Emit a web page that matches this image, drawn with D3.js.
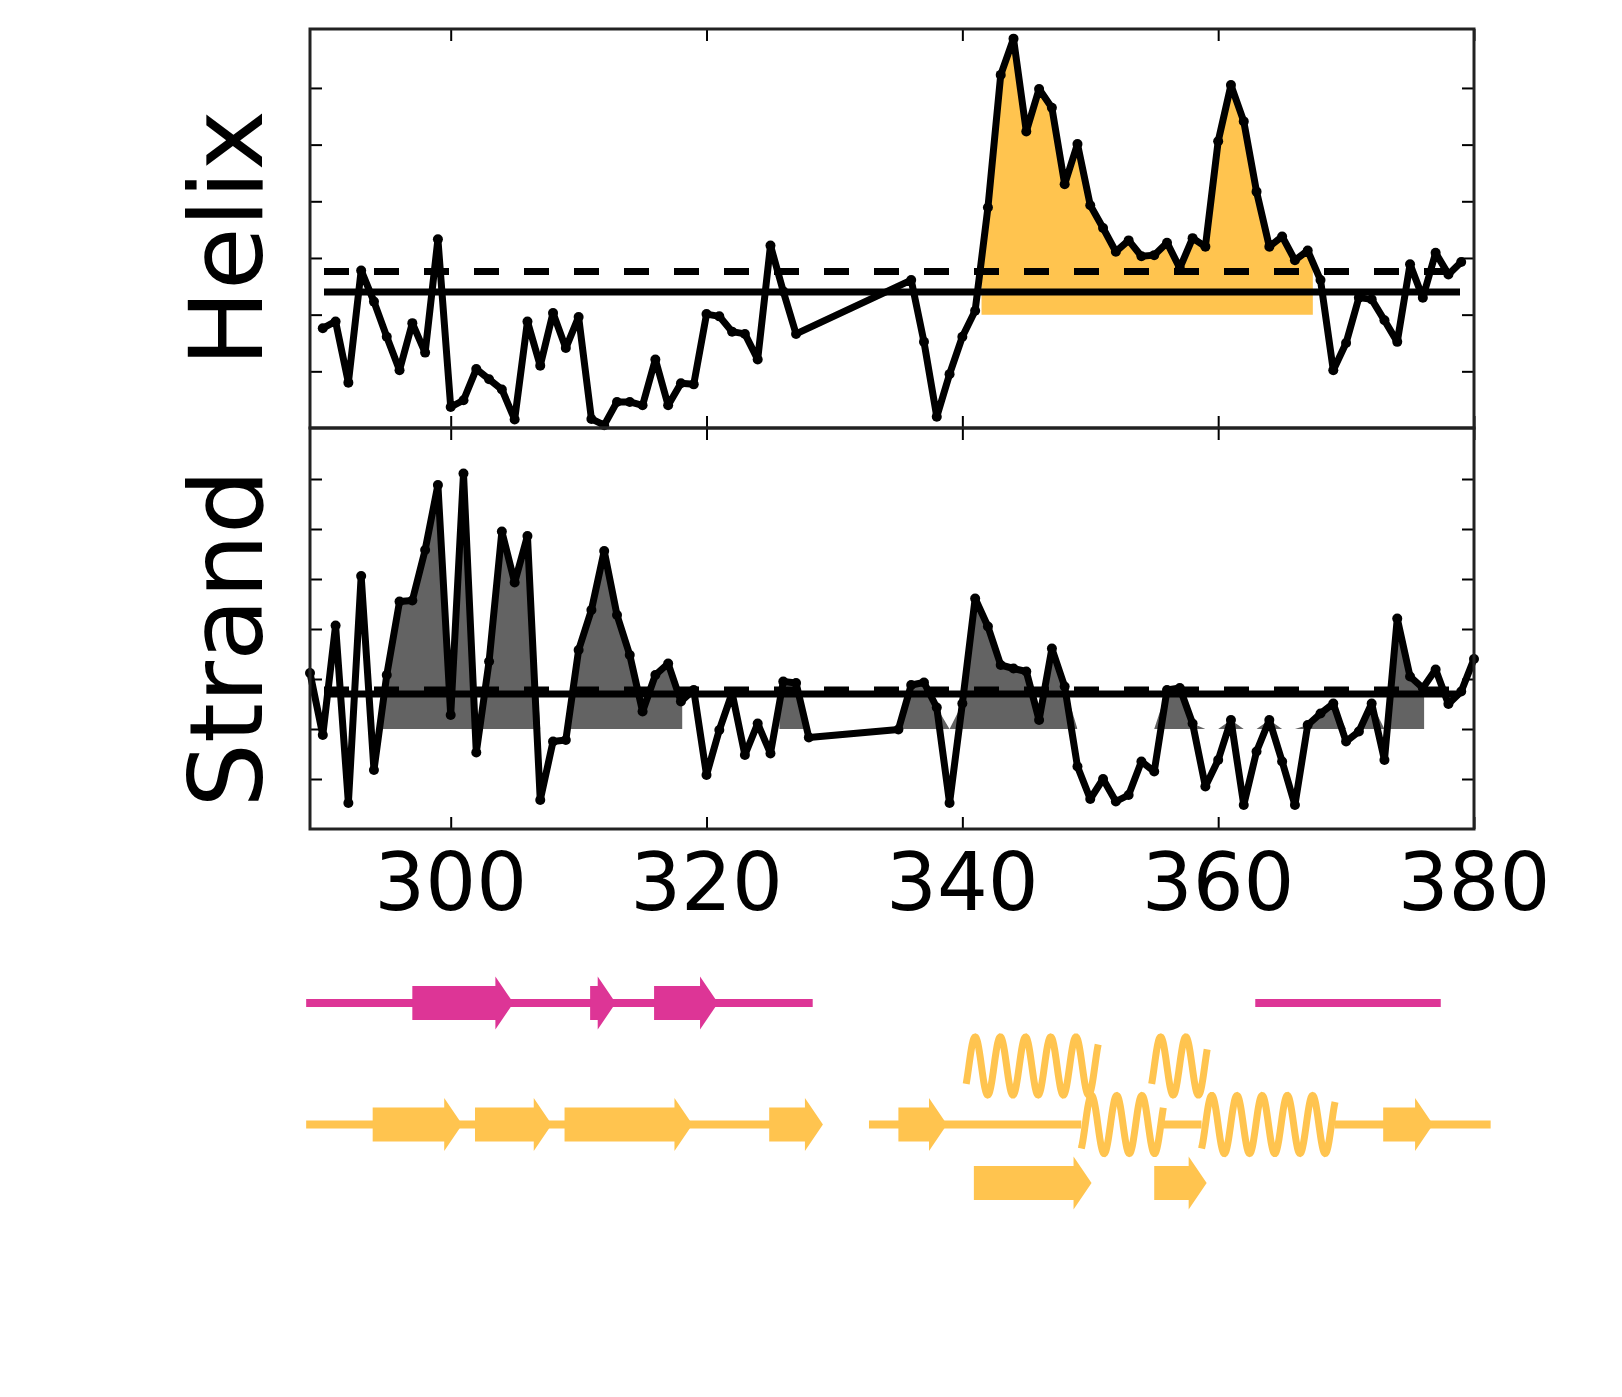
<!DOCTYPE html>
<html><head><meta charset="utf-8">
<script src="https://cdn.jsdelivr.net/npm/d3@7"></script>
<style>body{margin:0;background:#fff}</style></head>
<body><svg id="c" width="1622" height="1397"></svg>
<script>
const helixRes1 = d3.range(290, 328);
const helixVal1 = [1.76,1.88,0.80,2.78,2.23,1.61,1.02,1.85,1.33,3.33,0.37,0.49,1.04,0.86,0.68,0.15,1.88,1.10,2.03,1.41,1.96,0.16,0.05,0.46,0.46,0.40,1.21,0.40,0.79,0.77,2.01,1.97,1.70,1.66,1.21,3.22,2.41,1.66];
const helixRes2 = d3.range(336, 380);
const helixVal2 = [2.61,1.52,0.20,0.95,1.61,2.07,3.89,6.23,6.87,5.23,5.98,5.65,4.30,5.01,3.93,3.53,3.11,3.31,3.03,3.05,3.27,2.82,3.35,3.20,5.06,6.05,5.41,4.17,3.20,3.38,2.96,3.13,2.61,1.02,1.50,2.30,2.27,1.90,1.52,2.89,2.30,3.09,2.71,2.93];
const strandRes1 = d3.range(289, 329);
const strandVal1 = [3.12,1.88,4.07,0.52,5.06,1.18,3.08,4.55,4.57,5.58,6.88,2.28,7.11,1.53,3.35,5.95,4.93,5.86,0.58,1.75,1.78,3.58,4.38,5.56,4.28,3.48,2.35,3.08,3.31,2.55,2.78,1.08,1.98,2.72,1.48,2.11,1.51,2.95,2.92,1.83];
const strandRes2 = d3.range(335, 381);
const strandVal2 = [1.99,2.88,2.93,2.43,0.52,2.51,4.61,4.05,3.28,3.21,3.15,2.18,3.61,2.85,1.25,0.60,1.00,0.55,0.68,1.35,1.15,2.78,2.82,2.11,0.85,1.38,2.18,0.48,1.55,2.18,1.35,0.48,2.08,2.31,2.51,1.75,1.95,2.51,1.38,4.21,3.05,2.82,3.19,2.50,2.75,3.40];
const helixSolid = 2.40, helixDashed = 2.76, helixBase = 2.0;
const strandSolid = 2.70, strandDashed = 2.78, strandBase = 2.0;
const helixFillRanges = [[341.5, 367.4]];
const strandFillRanges = [[294.7, 300], [300, 318.1], [325.7, 349.0], [354.9, 376.1]];
const xTicks = [300, 320, 340, 360, 380];
const helixYTicks = [1, 2, 3, 4, 5, 6];
const strandYTicks = [1, 2, 3, 4, 5, 6, 7];
// secondary structure schematic (residue units)
const magentaLines = [[288.7, 328.3], [362.9, 377.4]];
const magentaArrows = [[297.0, 304.9], [310.9, 312.9], [315.9, 320.9]];
const yellowLines = [[288.7, 328.0], [332.7, 349.3], [355.7, 358.7], [369.1, 381.3]];
const yellowArrows = [[293.9, 300.9], [301.9, 307.9], [308.9, 318.9], [324.9, 329.1], [335.0, 338.8], [372.9, 376.8]];
const yellowCoils2 = [[349.3, 355.7, 350.1], [358.7, 369.1, 359.5]];
const yellowCoils1 = [[340.3, 350.6, 341.0], [354.8, 359.1, 355.5]];
const yellowArrows3 = [[340.9, 350.1], [355.0, 359.1]];

const svg = d3.select('#c');
const L = 310, R = 1474, T = 29, M = 428, B = 829;
const x = d3.scaleLinear([289, 380], [L, R]);
const yH = d3.scaleLinear([0, 7.04], [M, T]);
const yS = d3.scaleLinear([0, 8.02], [B, M]);
const YEL = '#FFC44F', MAG = '#DD3596', GRAY = '#636363';

function panel(y, top, bot, segs, solid, dashed, base, ranges, fill, yt, id) {
  const g = svg.append('g');
  const cp = svg.append('defs').append('clipPath').attr('id', id);
  ranges.forEach(r => cp.append('rect').attr('x', x(r[0])).attr('y', top).attr('width', x(r[1]) - x(r[0])).attr('height', bot - top));
  const area = d3.area().x(d => x(d[0])).y0(y(base)).y1(d => y(Math.max(d[1], base)));
  segs.forEach(s => g.append('path').datum(s).attr('d', area).attr('fill', fill).attr('clip-path', `url(#${id})`));
  g.append('line').attr('x1', L + 14).attr('x2', R - 14).attr('y1', y(dashed)).attr('y2', y(dashed))
    .attr('stroke', '#000').attr('stroke-width', 7).attr('stroke-dasharray', '25,25');
  g.append('line').attr('x1', L + 14).attr('x2', R - 14).attr('y1', y(solid)).attr('y2', y(solid))
    .attr('stroke', '#000').attr('stroke-width', 7);
  const line = d3.line().x(d => x(d[0])).y(d => y(d[1]));
  const all = [];
  segs.forEach(s => all.push(...s));
  g.append('path').datum(all).attr('d', line).attr('fill', 'none').attr('stroke', '#000').attr('stroke-width', 7).attr('stroke-linejoin', 'round');
  g.selectAll(null).data(all).join('circle').attr('cx', d => x(d[0])).attr('cy', d => y(d[1])).attr('r', 5).attr('fill', '#000');
  const tl = 12;
  g.append('g').attr('transform', `translate(${L},0)`).call(d3.axisRight(y).tickValues(yt).tickSize(tl).tickFormat(''));
  g.append('g').attr('transform', `translate(${R},0)`).call(d3.axisLeft(y).tickValues(yt).tickSize(tl).tickFormat(''));
  g.append('g').attr('transform', `translate(0,${top})`).call(d3.axisBottom(x).tickValues(xTicks).tickSize(tl).tickFormat(''));
  g.append('g').attr('transform', `translate(0,${bot})`).call(d3.axisTop(x).tickValues(xTicks).tickSize(tl).tickFormat(''));
  g.selectAll('.domain').remove();
  g.selectAll('.tick line').attr('stroke', '#000').attr('stroke-width', 2);
  g.append('rect').attr('x', L).attr('y', top).attr('width', R - L).attr('height', bot - top).attr('fill', 'none').attr('stroke', '#222').attr('stroke-width', 3);
}
const zip = (a, b) => a.map((r, i) => [r, b[i]]);
panel(yH, T, M, [zip(helixRes1, helixVal1), zip(helixRes2, helixVal2)], helixSolid, helixDashed, helixBase, helixFillRanges, YEL, helixYTicks, 'ch');
panel(yS, M, B, [zip(strandRes1, strandVal1), zip(strandRes2, strandVal2)], strandSolid, strandDashed, strandBase, strandFillRanges, GRAY, strandYTicks, 'cs');

svg.selectAll(null).data(xTicks).join('text').attr('x', d => x(d)).attr('y', 910)
  .attr('text-anchor', 'middle').attr('font-family', 'DejaVu Sans').attr('font-size', 80).text(d => d);
svg.append('text').attr('transform', `translate(262,${(T + M) / 2 + 10}) rotate(-90)`).attr('text-anchor', 'middle')
  .attr('font-family', 'DejaVu Sans').attr('font-size', 102).text('Helix');
svg.append('text').attr('transform', `translate(262,${(M + B) / 2 + 10}) rotate(-90)`).attr('text-anchor', 'middle')
  .attr('font-family', 'DejaVu Sans').attr('font-size', 102).text('Strand');

function hline(segs, cy, col) {
  segs.forEach(s => svg.append('rect').attr('x', x(s[0])).attr('y', cy - 4).attr('width', x(s[1]) - x(s[0])).attr('height', 8).attr('fill', col));
}
function arrows(arr, cy, col) {
  arr.forEach(a => {
    const x0 = x(a[0]), x1 = x(a[1]), hb = Math.max(x0, x1 - 18);
    const pts = [[x0, cy - 17], [hb, cy - 17], [hb, cy - 26.5], [x1, cy], [hb, cy + 26.5], [hb, cy + 17], [x0, cy + 17]];
    svg.append('path').attr('d', 'M' + pts.join('L') + 'Z').attr('fill', col);
  });
}
function coils(arr, cy, col) {
  const P = 25.2, A = 29;
  arr.forEach(c => {
    const x0 = x(c[0]), x1 = x(c[1]), pk = x(c[2]);
    const pts = d3.range(x0, x1 + 0.5, 0.5).map(px => [px, cy - A * Math.cos(2 * Math.PI * (px - pk) / P)]);
    svg.append('path').attr('d', d3.line()(pts)).attr('fill', 'none').attr('stroke', col).attr('stroke-width', 7);
  });
}
hline(magentaLines, 1003, MAG); arrows(magentaArrows, 1003, MAG);
hline(yellowLines, 1124.5, YEL); arrows(yellowArrows, 1124.5, YEL); coils(yellowCoils2, 1124.5, YEL);
coils(yellowCoils1, 1066, YEL);
arrows(yellowArrows3, 1183, YEL);
</script></body></html>
